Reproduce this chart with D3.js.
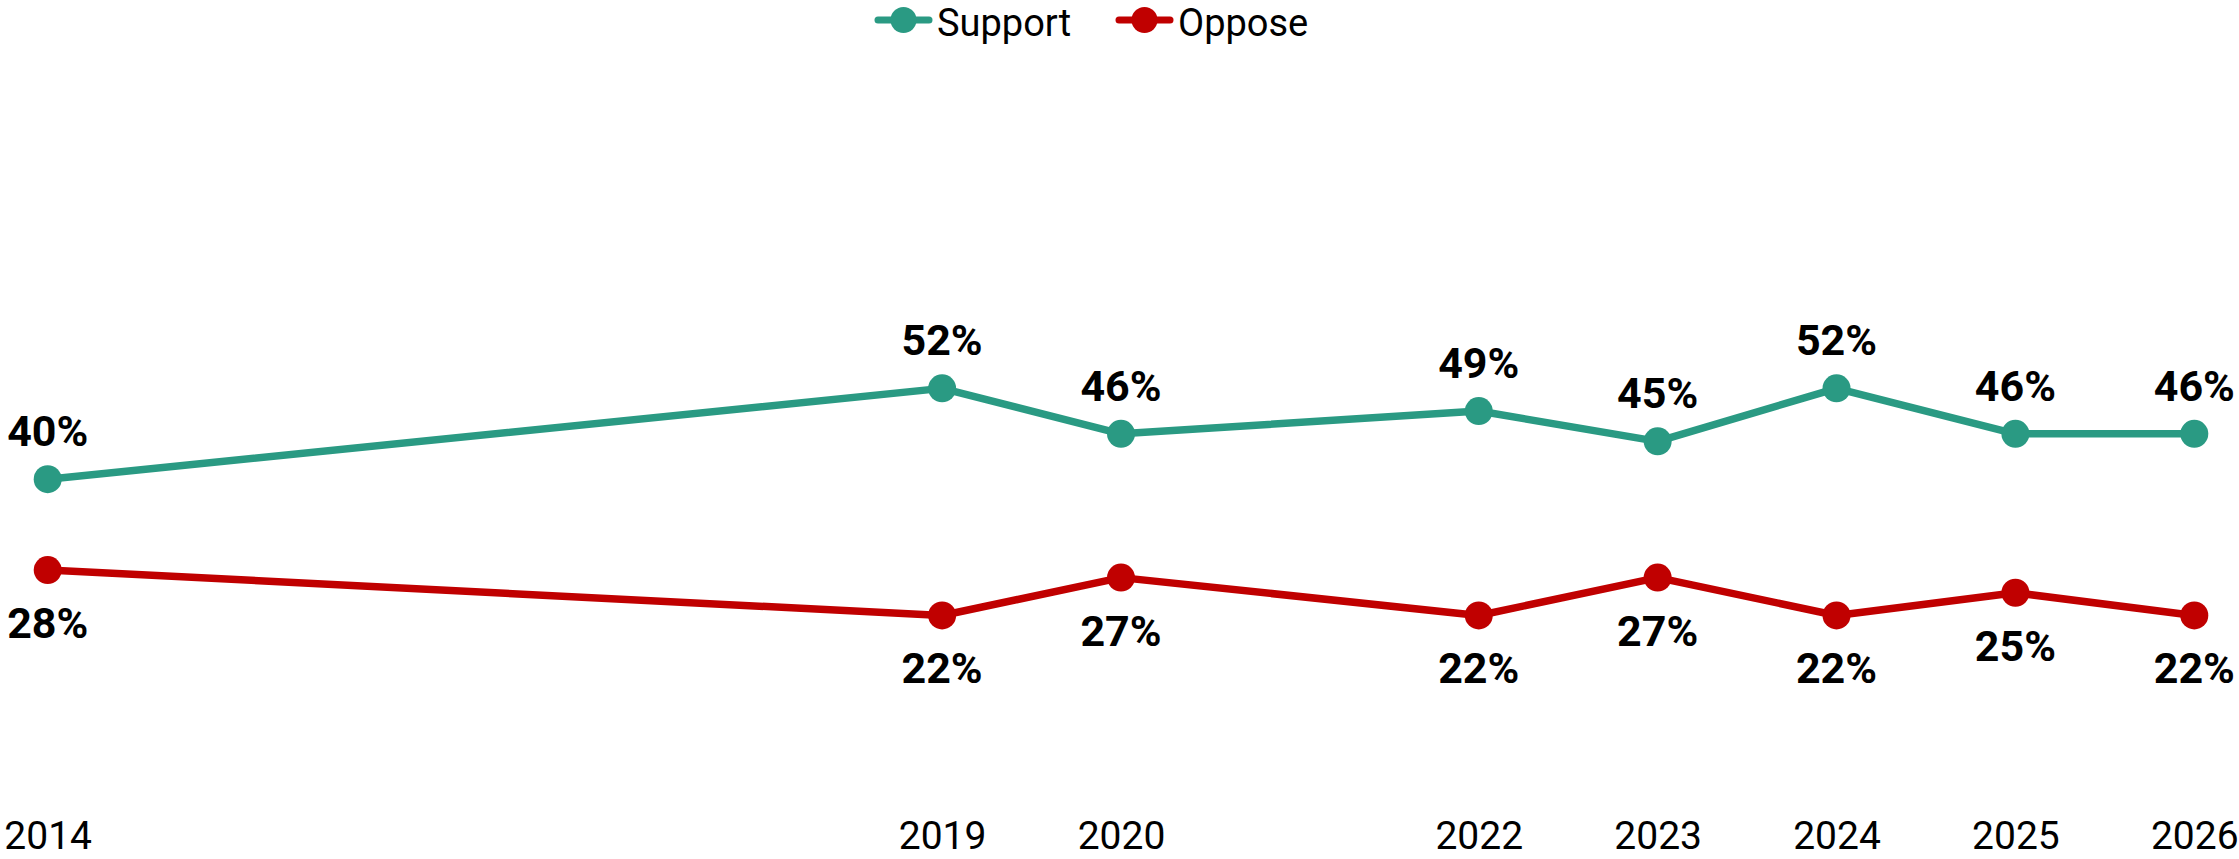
<!DOCTYPE html>
<html>
<head>
<meta charset="utf-8">
<script src="https://cdn.jsdelivr.net/npm/d3@7"></script>
<style>
	html, body { margin: 0; padding: 0; background: #fff; }
	svg { display: block; font-family: Roboto, "Noto Sans", sans-serif; }
</style>
</head>
<body>
<script>
	// DATA //

	var years = [ 2014, 2019, 2020, 2022, 2023, 2024, 2025, 2026 ],
		support = [ 40, 52, 46, 49, 45, 52, 46, 46 ],
		oppose = [ 28, 22, 27, 22, 27, 22, 25, 22 ],
		seriesNames = [ 'Support', 'Oppose' ];

	// VARIABLES //

	var WIDTH = 2239,
		HEIGHT = 859,
		RADIUS = 14,
		GREEN = '#2a9a83',
		RED = '#c00000';

	var svg = d3.select( 'body' ).append( 'svg' )
		.attr( 'width', WIDTH )
		.attr( 'height', HEIGHT )
		.attr( 'viewBox', '0 0 ' + WIDTH + ' ' + HEIGHT );

	var x = d3.scaleLinear()
		.domain( [ 2014, 2026 ] )
		.range( [ 47.7, 2194.3 ] );

	var y = d3.scaleLinear()
		.domain( [ 0, 100 ] )
		.range( [ 782, 25 ] );

	var series = [
		{ name: seriesNames[ 0 ], values: support, color: GREEN, above: true },
		{ name: seriesNames[ 1 ], values: oppose, color: RED, above: false }
	];

	// X axis (year labels only):
	var xAxis = d3.axisBottom( x )
		.tickValues( years )
		.tickFormat( d3.format( 'd' ) )
		.tickSize( 0 );

	var gx = svg.append( 'g' )
		.attr( 'class', 'x-axis' )
		.attr( 'transform', 'translate(0,849)' )
		.call( xAxis );

	gx.select( '.domain' ).remove();
	gx.selectAll( 'text' )
		.attr( 'y', 0 )
		.attr( 'dy', 0 )
		.attr( 'fill', '#000' )
		.style( 'font-family', 'Roboto, sans-serif' )
		.style( 'font-size', '39px' )
		.style( 'font-weight', 400 );

	var line = d3.line()
		.x( function( d, i ) { return x( years[ i ] ); })
		.y( function( d ) { return y( d ); });

	var groups = svg.selectAll( 'g.series' )
		.data( series )
	  .enter().append( 'g' )
		.attr( 'class', 'series' );

	groups.append( 'path' )
		.attr( 'fill', 'none' )
		.attr( 'stroke', function( s ) { return s.color; })
		.attr( 'stroke-width', 7.5 )
		.attr( 'stroke-linejoin', 'round' )
		.attr( 'd', function( s ) { return line( s.values ); });

	groups.selectAll( 'circle' )
		.data( function( s ) { return s.values.map( function( v, i ) { return { v: v, i: i, s: s }; }); })
	  .enter().append( 'circle' )
		.attr( 'cx', function( d ) { return x( years[ d.i ] ); })
		.attr( 'cy', function( d ) { return y( d.v ); })
		.attr( 'r', RADIUS )
		.attr( 'fill', function( d ) { return d.s.color; });

	groups.selectAll( 'text.label' )
		.data( function( s ) { return s.values.map( function( v, i ) { return { v: v, i: i, s: s }; }); })
	  .enter().append( 'text' )
		.attr( 'class', 'label' )
		.attr( 'x', function( d ) { return x( years[ d.i ] ); })
		.attr( 'y', function( d ) { return y( d.v ) + ( d.s.above ? -33 : 68 ); })
		.attr( 'text-anchor', 'middle' )
		.attr( 'fill', '#000' )
		.style( 'font-size', '43px' )
		.style( 'font-weight', 700 )
		.text( function( d ) { return d.v + '%'; });

	// Legend:
	var legendX = [ 875, 1116 ],
		legend = svg.selectAll( 'g.legend' )
		.data( series )
	  .enter().append( 'g' )
		.attr( 'class', 'legend' )
		.attr( 'transform', function( s, i ) { return 'translate(' + legendX[ i ] + ',20)'; });

	legend.append( 'line' )
		.attr( 'x1', 3 )
		.attr( 'x2', 54 )
		.attr( 'stroke', function( s ) { return s.color; })
		.attr( 'stroke-width', 7 )
		.attr( 'stroke-linecap', 'round' );

	legend.append( 'circle' )
		.attr( 'cx', 28.5 )
		.attr( 'r', 13 )
		.attr( 'fill', function( s ) { return s.color; });

	legend.append( 'text' )
		.attr( 'x', 62 )
		.attr( 'y', 16 )
		.attr( 'fill', '#000' )
		.style( 'font-size', '38px' )
		.style( 'font-weight', 400 )
		.text( function( s ) { return s.name; });
</script>
</body>
</html>
